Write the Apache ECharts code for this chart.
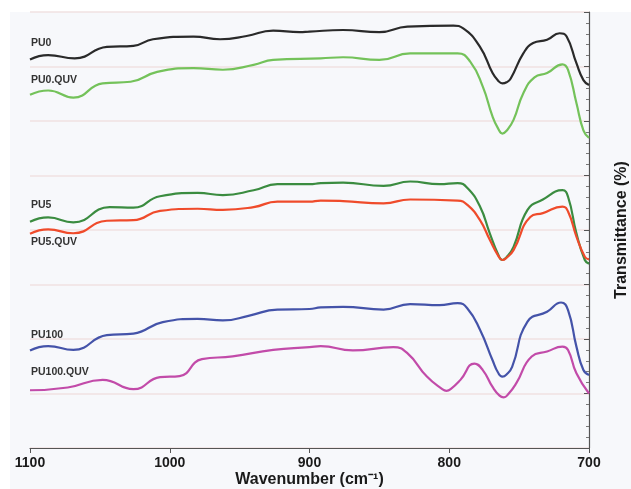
<!DOCTYPE html>
<html><head><meta charset="utf-8">
<script src="https://cdn.jsdelivr.net/npm/echarts@6/dist/echarts.min.js"></script>
<style>html,body{margin:0;padding:0;background:#fff}#c{width:631px;height:489px}</style>
</head><body><div id="c"></div>
<script>
// Wavenumber (cm-1), transmittance (arbitrary offset units) pairs
const pu0 = [[1100,71.3],[1087,72.1],[1068,71.5],[1045,73.6],[1026,73.8],[1012,75.0],[983,75.5],[964,75.0],[945,75.6],[926,76.6],[907,76.3],[900,76.4],[876,76.7],[850,76.3],[830,77.3],[797,77.5],[790,77.0],[778,73.6],[769,68.8],[765,67.4],[762,66.9],[759,67.1],[756,67.8],[747,72.4],[740,74.3],[730,74.9],[721,76.1],[716,75.5],[709,70.6],[704,67.5],[700,66.6]];
const pu0Quv = [[1100,64.8],[1087,65.6],[1069,64.3],[1048,66.9],[1028,67.2],[1009,69.0],[983,69.7],[962,69.4],[940,70.3],[926,71.2],[892,71.5],[876,71.7],[850,71.2],[828,72.4],[794,72.4],[785,70.9],[776,66.3],[769,60.8],[765,58.6],[762,57.7],[759,58.2],[754,60.2],[747,65.1],[739,68.0],[730,68.8],[719,70.4],[715,69.4],[709,63.3],[704,58.3],[700,56.9]];
const pu5 = [[1100,41.5],[1087,42.3],[1069,41.4],[1043,44.2],[1026,44.1],[1007,46.2],[980,46.8],[962,46.4],[940,47.3],[923,48.4],[900,48.4],[892,48.6],[876,48.7],[847,48.1],[828,48.9],[807,48.4],[794,48.6],[787,47.7],[778,44.3],[771,39.4],[765,35.5],[762,34.5],[759,35.0],[754,36.9],[744,43.7],[733,45.6],[719,47.3],[715,46.1],[709,39.4],[703,34.5],[700,33.8]];
const pu5Quv = [[1100,39.3],[1087,40.1],[1069,39.4],[1045,41.7],[1026,41.8],[1007,43.5],[980,43.9],[962,43.7],[940,44.2],[923,45.2],[900,45.2],[892,45.4],[876,45.3],[847,44.9],[828,45.6],[794,45.4],[787,44.6],[778,41.8],[771,38.2],[765,35.3],[762,34.5],[759,34.9],[754,36.3],[742,42.4],[733,43.1],[719,44.3],[715,43.4],[709,38.8],[703,35.1],[700,34.6]];
const pu100 = [[1100,17.9],[1087,18.7],[1069,18.0],[1045,20.7],[1026,21.0],[1005,23.1],[980,23.7],[962,23.4],[943,24.3],[923,25.4],[900,25.5],[892,25.8],[876,25.9],[847,25.4],[828,26.4],[807,26.2],[794,26.6],[787,25.6],[778,21.7],[769,16.1],[765,13.8],[762,13.1],[759,13.5],[755,14.9],[744,23.2],[730,25.0],[720,26.7],[715,25.3],[709,18.6],[704,14.3],[700,13.4]];
const pu100Quv = [[1100,10.6],[1073,11.1],[1048,12.5],[1026,10.8],[1007,13.0],[993,13.2],[977,16.3],[955,16.8],[926,18.0],[900,18.5],[892,18.7],[869,17.9],[840,18.5],[830,17.4],[816,13.1],[805,10.8],[802,10.5],[799,10.8],[792,12.5],[782,15.5],[776,14.3],[769,11.2],[764,9.6],[761,9.3],[758,9.8],[752,11.9],[741,16.8],[730,17.7],[719,18.6],[715,18.0],[709,13.7],[700,10.0]];

const seriesNames = ['PU0','PU0.QUV','PU5','PU5.QUV','PU100','PU100.QUV'];
const seriesData = [pu0, pu0Quv, pu5, pu5Quv, pu100, pu100Quv];
const seriesColors = ['#2a2a2a','#74c25a','#3b8c40','#ef4b2b','#4453a9','#c24ba9'];
const xTicks = [700, 800, 900, 1000, 1100];
const labelTops = [44, 81, 206, 243, 336, 373];

const chart = echarts.init(document.getElementById('c'), null, {renderer:'canvas'});
const FONT = '"Liberation Sans", Arial, sans-serif';
const option = {
  animation: false,
  grid: {left: 30, right: 42, top: 12, bottom: 41, containLabel:false, outerBoundsMode:'none'},
  graphic: [
    {type:'rect', z:-10, silent:true, shape:{x:10,y:12,width:621,height:477}, style:{fill:'#f7f8fb'}}
  ].concat(seriesNames.map((n,i)=>({
    type:'text', left: 31, top: labelTops[i]-6, z: 50,
    style:{text:n, fill:'#333', font:'bold 10.5px ' + FONT}
  }))),
  xAxis: {
    type:'value', min: xTicks[0], max: xTicks[xTicks.length-1], interval: 100, inverse: true,
    axisLine:{show:true, lineStyle:{color:'#555', width:1.2}},
    axisTick:{show:true, length:5, lineStyle:{color:'#555'}},
    splitLine:{show:false},
    axisLabel:{color:'#1a1a1a', fontWeight:'bold', fontSize:14, margin:8, fontFamily:FONT, formatter: v => String(v)},
    name:'Wavenumber (cm⁻¹)', nameLocation:'middle', nameGap:24, nameMoveOverlap:false,
    nameTextStyle:{color:'#1a1a1a', fontWeight:'bold', fontSize:16, fontFamily:FONT}
  },
  yAxis: {
    type:'value', position:'right', min:0, max:80, interval:10,
    axisLine:{show:true, lineStyle:{color:'#555', width:1.2}},
    axisTick:{show:true, inside:true, length:5, lineStyle:{color:'#555'}},
    minorTick:{show:true, splitNumber:5, length:3, lineStyle:{color:'#777'}},
    axisLabel:{show:false},
    splitLine:{show:true, lineStyle:{color:'#f1e2e2', width:1.5}},
    name:'Transmittance (%)', nameLocation:'middle', nameGap:25, nameRotate:90,
    nameTextStyle:{color:'#1a1a1a', fontWeight:'bold', fontSize:16, fontFamily:FONT}
  },
  series: seriesNames.map((n,i)=>({
    name:n, type:'line', data: seriesData[i], smooth:0.5, showSymbol:false,
    lineStyle:{color: seriesColors[i], width:2.2}, z: 3
  }))
};
chart.setOption(option);
</script></body></html>
